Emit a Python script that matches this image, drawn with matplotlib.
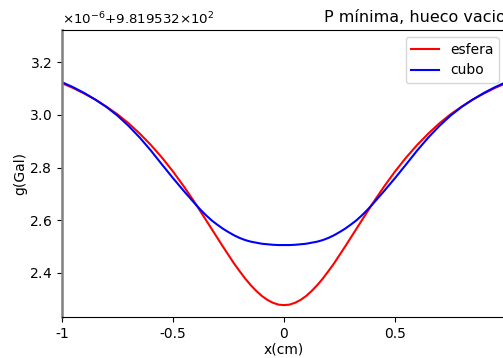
# gravedad sobre un hueco vacio: esfera vs cubo

import numpy as np
import matplotlib.pyplot as plt

plt.rcParams['axes.unicode_minus'] = False

# offset of the y axis (Gal) and scale of the readings
G0 = 981.9532
SCALE = 1e-6

# positions (cm), right half only; the curves are symmetric about x=0
x = [0.0, 0.025, 0.05, 0.075, 0.1, 0.125, 0.15, 0.175, 0.2, 0.225, 0.25,
     0.275, 0.3, 0.325, 0.35, 0.375, 0.4, 0.425, 0.45, 0.475, 0.5,
     0.55, 0.6, 0.65, 0.7, 0.75, 0.8, 0.85, 0.9, 0.95, 1.0]

# readings in units of 1e-6 Gal above G0
esfera = [2.278, 2.280, 2.287, 2.298, 2.313, 2.332, 2.354, 2.379, 2.407, 2.436, 2.468,
          2.500, 2.533, 2.566, 2.599, 2.632, 2.665, 2.696, 2.727, 2.756, 2.785,
          2.838, 2.886, 2.929, 2.968, 3.002, 3.031, 3.058, 3.081, 3.102, 3.120]
cubo = [2.506, 2.506, 2.507, 2.509, 2.511, 2.515, 2.519, 2.525, 2.533, 2.543, 2.555,
        2.568, 2.583, 2.599, 2.618, 2.639, 2.662, 2.686, 2.710, 2.735, 2.760,
        2.812, 2.865, 2.914, 2.958, 2.997, 3.030, 3.058, 3.083, 3.105, 3.124]

xticks = [-1, -0.5, 0, 0.5, 1]
xticklabels = ["-1", "-0.5", "0", "0.5", "1"]


def mirror(xs, ys):
    xs = np.array(xs)
    ys = np.array(ys)
    return np.concatenate([-xs[:0:-1], xs]), np.concatenate([ys[:0:-1], ys])


fig = plt.figure(figsize=(5.03, 3.58), dpi=100)
ax = fig.add_axes([62/503, 41/358, 444/503, 287/358])

xe, ye = mirror(x, esfera)
xc, yc = mirror(x, cubo)
ax.plot(xe, G0 + SCALE*ye, color="red", linewidth=1.5, label="esfera")
ax.plot(xc, G0 + SCALE*yc, color="blue", linewidth=1.5, label="cubo")

ax.set_xlim(-1, 1)
ax.set_ylim(G0 + SCALE*2.233, G0 + SCALE*3.322)
ax.set_xticks(xticks)
ax.set_xticklabels(xticklabels)

# offset text written by hand (no spaces around the x sign)
ax.ticklabel_format(axis="y", useOffset=True, useMathText=True)
ax.yaxis.get_offset_text().set_visible(False)
ax.text(0, 1.01, "×10$^{-6}$+9.819532×10$^{2}$", transform=ax.transAxes,
        ha="left", va="bottom", fontsize=9.6)

ax.set_xlabel("x(cm)", labelpad=1)
ax.set_ylabel("g(Gal)", labelpad=1)
ax.set_title("P mínima, hueco vacio", loc="right", fontsize=11.5)
ax.spines["left"].set_color("0.5")
ax.spines["left"].set_linewidth(1.8)
ax.legend(loc="upper right")

plt.savefig("out.png")
